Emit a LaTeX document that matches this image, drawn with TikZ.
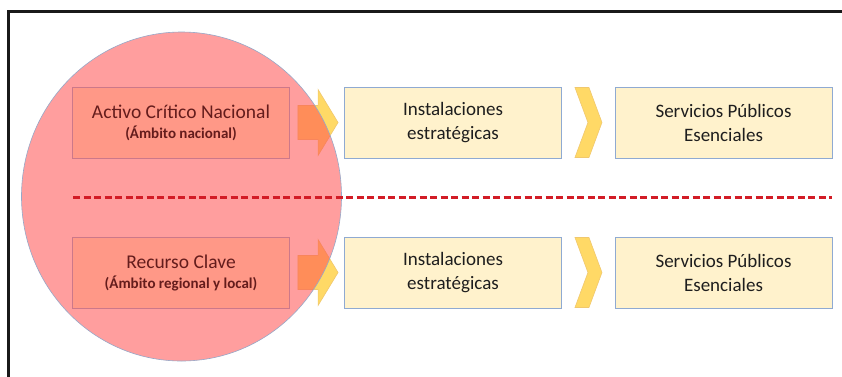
\documentclass[tikz,border=0pt]{standalone}
\usepackage{fontspec}
\setmainfont{Carlito}
\usetikzlibrary{calc}
\definecolor{boxfill}{RGB}{255,242,204}
\definecolor{boxline}{RGB}{143,170,210}
\definecolor{arrowfill}{RGB}{255,217,102}
\definecolor{arrowline}{RGB}{240,200,110}
\definecolor{overlay}{RGB}{255,79,79}
\definecolor{circline}{RGB}{150,168,200}
\definecolor{dashred}{RGB}{210,28,38}
\definecolor{txt}{RGB}{30,30,30}
\definecolor{redtxt}{RGB}{100,28,28}
\newcommand\myblockarrow[2]{%
  \path[arrowshape] let \p1=(#1.east), \p2=(#2.west) in
    (\x1+8pt,\y1+17pt) -- (\x2-26pt,\y1+17pt) -- (\x2-26pt,\y1+33pt) --
    (\x2-6pt,\y1) -- (\x2-26pt,\y1-33pt) -- (\x2-26pt,\y1-17pt) --
    (\x1+8pt,\y1-17pt) -- cycle;}
\newcommand\mychevron[1]{%
  \path[arrowshape] let \p1=(#1.east) in
    (\x1+13pt,\y1+35pt) -- (\x1+27pt,\y1+35pt) -- (\x1+40pt,\y1) --
    (\x1+27pt,\y1-35pt) -- (\x1+13pt,\y1-35pt) -- (\x1+26pt,\y1) -- cycle;}
\begin{document}
\begin{tikzpicture}[x=1pt,y=-1pt,
  box/.style={draw=boxline, line width=0.9pt, fill=boxfill,
    minimum width=217pt, minimum height=71pt, inner sep=0pt,
    align=center, text=txt, font=\fontsize{19}{24}\selectfont},
  lefttext/.style={align=center, text=redtxt, inner sep=0pt,
    font=\fontsize{19.5}{24}\selectfont},
  arrowshape/.style={fill=arrowfill, draw=arrowline, line width=0.6pt, line join=miter}]
\useasboundingbox (0,0) rectangle (842,376);
\clip (0,0) rectangle (842,376);
\fill[white] (0,0) rectangle (842,376);
\draw[line width=3pt, draw=black!90] (8,11) rectangle (870,400);

% boxes
\node[box] (acn) at (181,122.5) {};
\node[box] (rc)  at (181,272.5) {};
\node[box] (ins1) at (453,122.5) {Instalaciones\\estratégicas};
\node[box] (ins2) at (453,272.5) {Instalaciones\\estratégicas};
\node[box] (spe1) at (723.5,122.5) {Servicios Públicos\\Esenciales};
\node[box] (spe2) at (723.5,272.5) {Servicios Públicos\\Esenciales};

% arrows
\myblockarrow{acn}{ins1}
\myblockarrow{rc}{ins2}
\mychevron{ins1}
\mychevron{ins2}

% overlay circle
\path[fill=overlay, fill opacity=0.55, draw=circline, line width=0.6pt]
  (181.5,196.5) ellipse [x radius=160pt, y radius=164.5pt];

% texts of the left boxes (seen through the circle)
\node[lefttext] (acnt) at (acn.center) {Activo Crítico Nacional\\[-4pt]{\fontsize{15}{20}\selectfont\bfseries (Ámbito nacional)}};
\node[lefttext] (rct) at (rc.center) {Recurso Clave\\[-4pt]{\fontsize{15}{20}\selectfont\bfseries (Ámbito regional y local)}};

% dashed separator
\coordinate (dl) at (73,197);
\coordinate (dr) at (832,197);
\draw[dashred, line width=3pt, dash pattern=on 7pt off 3.5pt] (dl) -- (dr);
\end{tikzpicture}
\end{document}
